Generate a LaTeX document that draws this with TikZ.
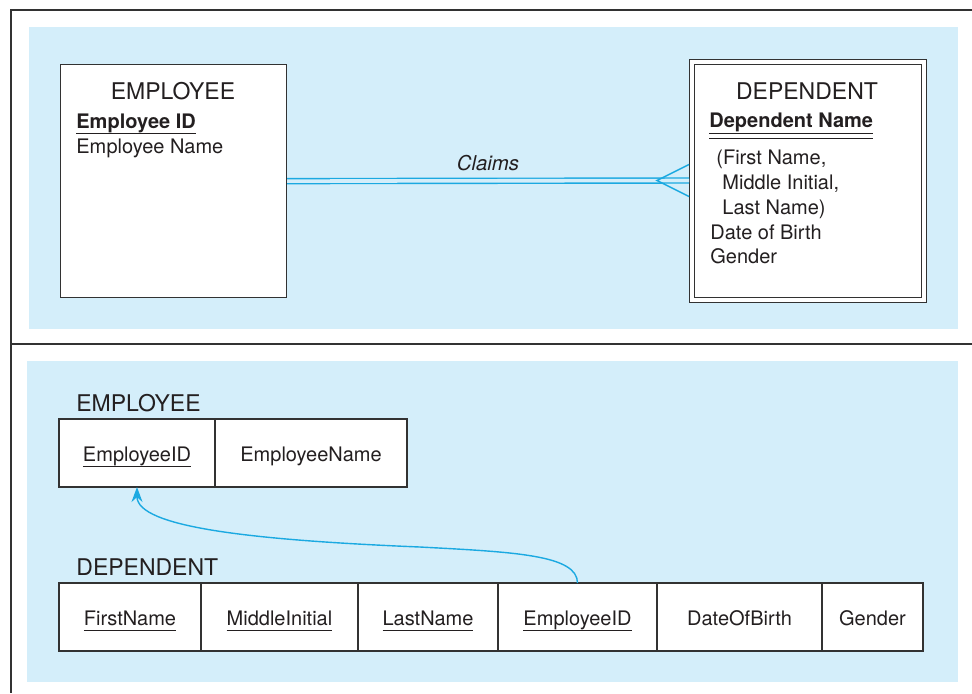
\documentclass[tikz,border=0pt]{standalone}
\usepackage{fontspec}
\setmainfont{TeX Gyre Heros}
\usepackage{xcolor}
\usepackage{tikz}
\usetikzlibrary{arrows.meta,positioning}

\definecolor{panelblue}{RGB}{212,238,250}
\definecolor{linkcyan}{RGB}{27,169,225}
\definecolor{framegray}{RGB}{50,50,50}
\definecolor{inkgray}{RGB}{35,31,32}

% underlined key attributes
\newcommand{\pkey}[1]{\setbox0\hbox{#1}\rlap{\rule[-2.8pt]{\wd0}{0.45pt}}\box0}
\newcommand{\pkeytop}[1]{\setbox0\hbox{#1}\rlap{\rule[-3pt]{\wd0}{0.5pt}}\box0}
\newcommand{\pkeydbl}[1]{\setbox0\hbox{#1}\rlap{\rule[-3.4pt]{\wd0}{0.5pt}}\rlap{\rule[-5.9pt]{\wd0}{0.5pt}}\box0}

\begin{document}
\begin{tikzpicture}[x=0.5pt,y=-0.5pt,
  frame/.style={draw=framegray,line width=1pt},
  panel/.style={fill=panelblue},
  entity/.style={draw=framegray,line width=0.6pt,fill=white,anchor=north west,inner sep=0pt},
  weakentity/.style={entity,line width=0.5pt,double=white,double distance=2pt,outer sep=1.25pt},
  title/.style={font=\fontsize{11.5}{13}\selectfont,text=inkgray,inner sep=0pt,anchor=base},
  attr/.style={font=\fontsize{10}{12}\selectfont,text=inkgray,inner sep=0pt,anchor=base west},
  cell/.style={draw=framegray,line width=0.6pt,fill=white,anchor=north west,
               minimum height=34pt,inner sep=0pt,outer sep=0pt,text height=8pt,text depth=0pt,
               font=\fontsize{10}{12}\selectfont,text=inkgray},
  rel/.style={draw=linkcyan,line width=0.7pt},
  fk/.style={draw=linkcyan,line width=0.7pt,-{Stealth[length=7.5pt,width=5.5pt]}}
]
\useasboundingbox (0,0) rectangle (972,693);

% panels and frame
\fill[panel] (29,27) rectangle (958,329);
\fill[panel] (27,361) rectangle (958,682);
\draw[frame] (972,10) -- (11,10) -- (11,693);
\draw[frame,line width=0.6pt] (11,344) -- (972,344);

% E-R diagram
\node[entity,minimum width=113pt,minimum height=116.5pt] (emp) at (60,64) {};
\node[weakentity,minimum width=116pt,minimum height=119pt] (dep) at (689,59) {};

\node[title] (empTitle) at (173,99) {EMPLOYEE};
\node[attr] (empID) at (76,128) {\pkeytop{\bfseries Employee ID}};
\node[attr] (empName) at (76,153) {Employee Name};

\node[title] (depTitle) at (807,99) {DEPENDENT};
\node[attr] (depName) at (709,127) {\pkeydbl{\bfseries Dependent Name}};
\node[attr] (depFirst) at (716,164) {(First Name,};
\node[attr] (depMiddle) at (722,189) {Middle Initial,};
\node[attr] (depLast) at (722,214) {Last Name)};
\node[attr] (depBirth) at (710,239) {Date of Birth};
\node[attr] (depGender) at (710,263) {Gender};

\draw[rel,double=panelblue,double distance=1.8pt] (emp.east) -- (dep.west);
\draw[rel] ([yshift=8pt]dep.west) -- ([xshift=-16pt]dep.west) -- ([yshift=-8pt]dep.west);
\node[font=\fontsize{10.2}{12}\selectfont\itshape,text=inkgray,inner sep=0pt,anchor=base] (claimsLbl) at (488,170) {Claims};

% relations
\node[title,anchor=base west] (empRel) at (76,411) {EMPLOYEE};
\node[cell,minimum width=78pt] (eEmpID) at (59,419) {\pkey{EmployeeID}};
\node[cell,minimum width=96pt,right=0pt of eEmpID] (eEmpName) {EmployeeName};

\node[title,anchor=base west] (depRel) at (76,575) {DEPENDENT};
\node[cell,minimum width=71pt] (dFirst) at (59,583) {\pkey{FirstName}};
\node[cell,minimum width=78.5pt,right=0pt of dFirst] (dMiddle) {\pkey{MiddleInitial}};
\node[cell,minimum width=70pt,right=0pt of dMiddle] (dLast) {\pkey{LastName}};
\node[cell,minimum width=79.5pt,right=0pt of dLast] (dEmpID) {\pkey{EmployeeID}};
\node[cell,minimum width=82.5pt,right=0pt of dEmpID] (dBirth) {DateOfBirth};
\node[cell,minimum width=50.5pt,right=0pt of dBirth] (dGender) {Gender};

\coordinate (fkBend) at (420,547);
\draw[fk] (dEmpID.north) .. controls +(0,-28) and +(95,5) .. (fkBend)
  .. controls +(-170,-7) and +(0,40) .. (eEmpID.south);
\end{tikzpicture}
\end{document}
